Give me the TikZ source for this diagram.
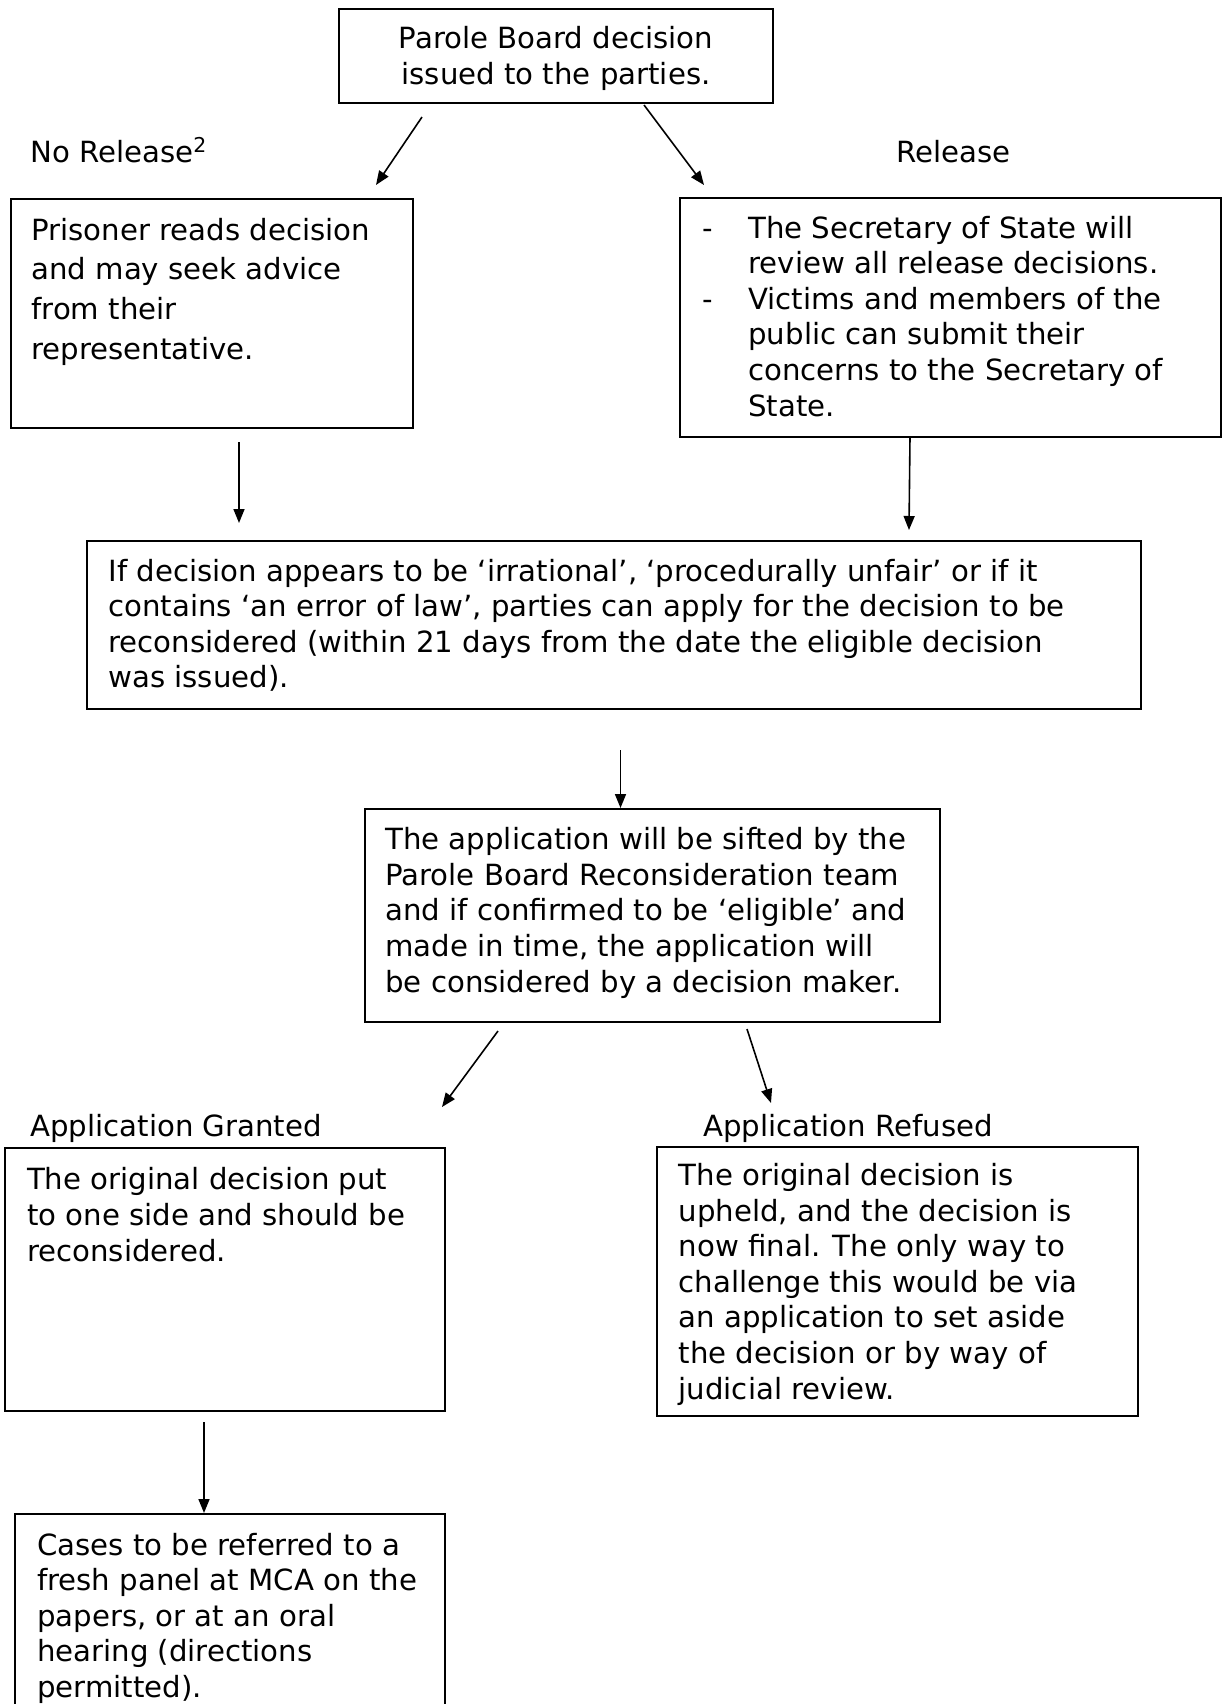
\documentclass[tikz,border=0pt]{standalone}
\usepackage{fontspec}
\setmainfont{DejaVu Sans}
\usetikzlibrary{arrows.meta,fit}
\begin{document}
\begin{tikzpicture}[x=0.5pt,y=-0.5pt,
  box/.style={draw, line width=1pt, inner sep=0pt, rectangle},
  txt/.style={anchor=base west, align=left, inner sep=0pt, font=\fontsize{14.6pt}{17.8pt}\selectfont},
  wide/.style={font=\fontsize{14.6pt}{19.9pt}\selectfont},
  arr/.style={line width=0.8pt, -{Triangle[length=7pt,width=5.5pt]}}]
\useasboundingbox (0,0) rectangle (1222,1704);
\clip (0,0) rectangle (1222,1704);
% boxes
\node[box, fit={(339,9) (773,103)}] (b1) {};
\node[box, fit={(11,199) (413,428)}] (b2) {};
\node[box, fit={(680,198) (1221,437)}] (b3) {};
\node[box, fit={(87,541) (1141,709)}] (b4) {};
\node[box, fit={(365,809) (940,1022)}] (b5) {};
\node[box, fit={(5,1148) (445,1411)}] (b6) {};
\node[box, fit={(657,1147) (1138,1416)}] (b7) {};
\node[box, fit={(15,1514) (445,1740)}] (b8) {};
% texts (anchor = baseline of the last line)
\node[txt, anchor=base, align=center] (t1) at (556,84) {Parole Board decision\\issued to the parties.};
\node[txt] (l1) at (30,162.7) {No Release\textsuperscript{2}};
\node[txt] (l2) at (895.7,162.3) {Release};
\node[txt, wide] (t2) at (31,359.5) {Prisoner reads decision\\and may seek advice\\from their\\representative.};
\node[txt] (d1) at (702,238) {-};
\node[txt] (d2) at (702,309.2) {-};
\node[txt] (t3) at (748,416) {The Secretary of State will\\review all release decisions.\\Victims and members of the\\public can submit their\\concerns to the Secretary of\\State.};
\node[txt] (t4) at (108,687.8) {If decision appears to be ‘irrational’, ‘procedurally unfair’ or if it\\contains ‘an error of law’, parties can apply for the decision to be\\reconsidered (within 21 days from the date the eligible decision\\was issued).};
\node[txt] (t5) at (385,992) {The application will be sifted by the\\Parole Board Reconsideration team\\and if confirmed to be ‘eligible’ and\\made in time, the application will\\be considered by a decision maker.};
\node[txt] (l3) at (30,1136.7) {Application Granted};
\node[txt] (l4) at (702.7,1136.7) {Application Refused};
\node[txt] (t6) at (26.7,1261) {The original decision put\\to one side and should be\\reconsidered.};
\node[txt] (t7) at (678.3,1399) {The original decision is\\upheld, and the decision is\\now final. The only way to\\challenge this would be via\\an application to set aside\\the decision or by way of\\judicial review.};
\node[txt] (t8) at (36.7,1697.5) {Cases to be referred to a\\fresh panel at MCA on the\\papers, or at an oral\\hearing (directions\\permitted).};
% arrows
\coordinate (a1s) at (422,117);  \coordinate (a1e) at (376,185);
\coordinate (a2s) at (644,105);  \coordinate (a2e) at (704,185);
\coordinate (a3s) at (239,442);  \coordinate (a3e) at (239,523);
\coordinate (a4s) at (910,437);  \coordinate (a4e) at (909,530);
\coordinate (a5s) at (620.5,750); \coordinate (a5e) at (620.5,808);
\coordinate (a6s) at (498,1031); \coordinate (a6e) at (442,1107);
\coordinate (a7s) at (747,1029); \coordinate (a7e) at (771,1103);
\coordinate (a8s) at (204,1422); \coordinate (a8e) at (204,1513);
\draw[arr] (a1s) -- (a1e);
\draw[arr] (a2s) -- (a2e);
\draw[arr] (a3s) -- (a3e);
\draw[arr] (a4s) -- (a4e);
\draw[arr] (a5s) -- (a5e);
\draw[arr] (a6s) -- (a6e);
\draw[arr] (a7s) -- (a7e);
\draw[arr] (a8s) -- (a8e);
\end{tikzpicture}
\end{document}
